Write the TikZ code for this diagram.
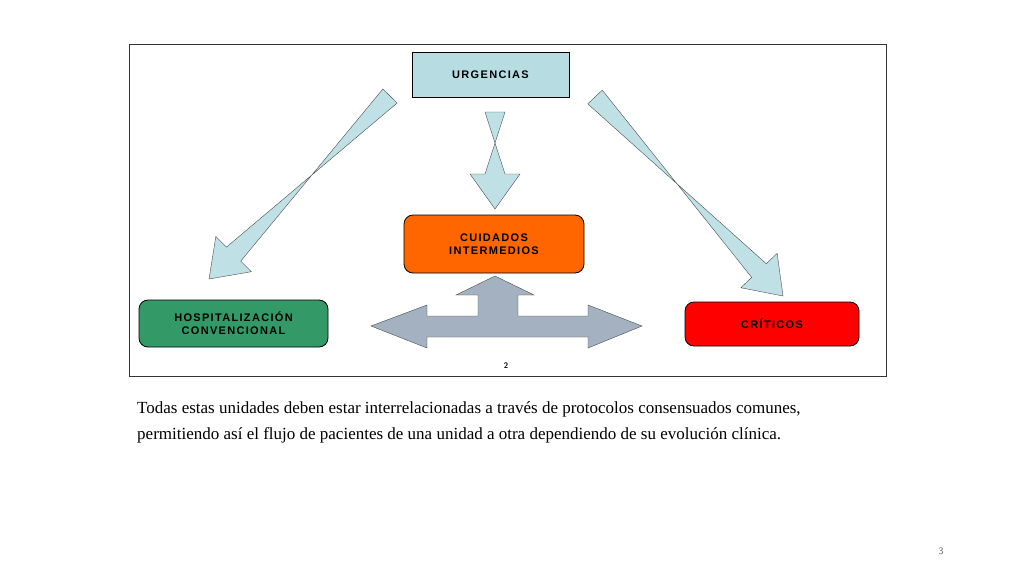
\documentclass[tikz,border=0pt]{standalone}
\usepackage{fontspec}
\setmainfont{Liberation Serif}
\newfontfamily\boxfont[LetterSpace=12]{Liberation Sans}
\usetikzlibrary{calc, positioning}
\definecolor{urgblue}{HTML}{B7DDE3}
\definecolor{arrowblue}{HTML}{BFE1E6}
\definecolor{orangeunit}{HTML}{FF6600}
\definecolor{greenunit}{HTML}{339966}
\definecolor{grayarrow}{HTML}{A3B1C0}
\tikzset{
unit/.style={draw=black, thick, rounded corners=9pt, font=\boxfont\bfseries\fontsize{11}{13}\selectfont, align=center}, % the four units
flow/.style={draw=black!70, fill=arrowblue}, % light blue block arrows
}
% block arrow from #1 to #2
\newcommand{\blockarrow}[2]{
  \coordinate (hb) at ($(#2)!35pt!(#1)$);
  \draw[flow] ($(#1)!10pt!90:(#2)$) -- ($(hb)!10pt!-90:(#2)$) -- ($(hb)!25pt!-90:(#2)$) -- (#2)
    -- ($(hb)!25pt!90:(#2)$) -- ($(hb)!10pt!90:(#2)$) -- ($(#1)!10pt!-90:(#2)$) -- cycle;
}
\begin{document}
\begin{tikzpicture}[x=1pt, y=-1pt]
\useasboundingbox (0,0) rectangle (1024,576);
\draw[black!80, thick] (129,44) rectangle (886,376);

\node[unit, rounded corners=0pt, fill=urgblue, minimum width=157pt, minimum height=45pt] at (490.5,74.5) (urg) {URGENCIAS};
\node[unit, fill=orangeunit, minimum width=180pt, minimum height=58pt] at (494,244) (cuid) {CUIDADOS\\INTERMEDIOS};
\node[unit, fill=greenunit, minimum width=189pt, minimum height=47pt] at (233.5,323.5) (hosp) {HOSPITALIZACIÓN\\CONVENCIONAL};
\node[unit, fill=red, minimum width=174pt, minimum height=44pt] at (772,324) (crit) {CRÍTICOS};

\coordinate (hospFrom) at (390,96);   \coordinate (hospTo) at (209,279);
\coordinate (cuidFrom) at (495,112);  \coordinate (cuidTo) at (495,209);
\coordinate (critFrom) at (595,97);   \coordinate (critTo) at (783,296);
\blockarrow{hospFrom}{hospTo}
\blockarrow{cuidFrom}{cuidTo}
\blockarrow{critFrom}{critTo}

% three-way exchange arrow
\draw[fill=grayarrow, draw=black!70] (371,326) -- (427,305) -- (427,316) -- (478,316) -- (478,295) -- (456,295)
  -- (495,276) -- (534,295) -- (518,295) -- (518,316) -- (588,316) -- (588,305) -- (642,326)
  -- (588,348) -- (588,337) -- (427,337) -- (427,348) -- cycle;

\node[font=\sffamily\bfseries\fontsize{8}{9}\selectfont] at (506,366) (slide) {2};
\node[anchor=north west, align=left, inner sep=0pt, font=\fontsize{17}{26}\selectfont] at (137,401) (caption) {Todas estas unidades deben estar interrelacionadas a través de protocolos consensuados comunes,\\permitiendo así el flujo de pacientes de una unidad a otra dependiendo de su evolución clínica.};
\node[text=black!60, font=\sffamily\fontsize{10}{12}\selectfont] at (941,551) (page) {3};
\end{tikzpicture}
\end{document}
